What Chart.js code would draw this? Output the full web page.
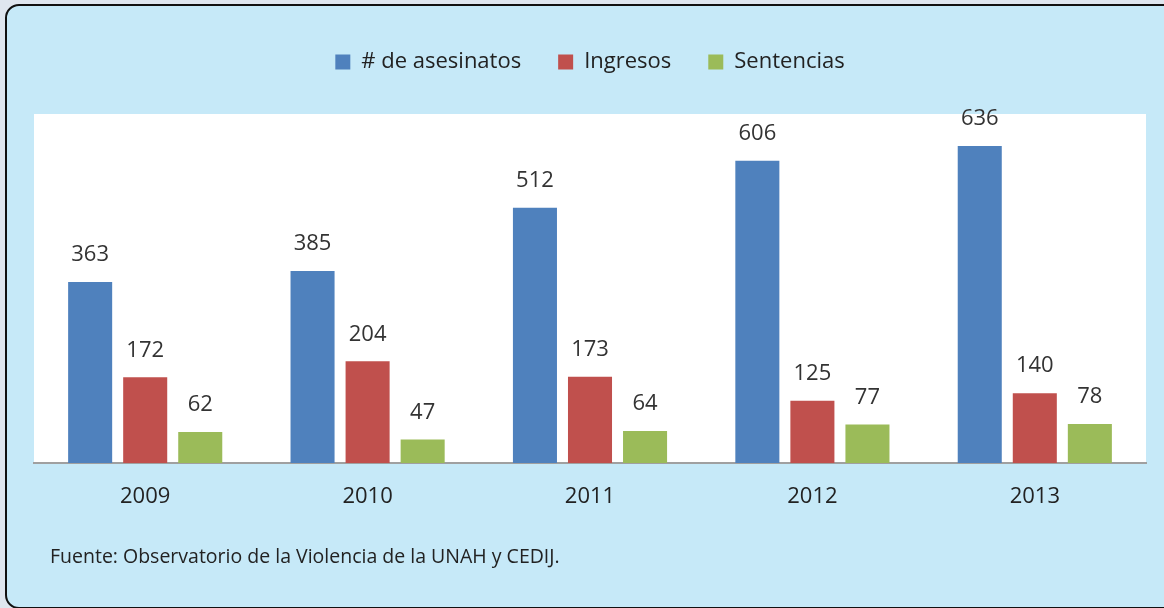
<!DOCTYPE html>
<html>
<head>
<meta charset="utf-8">
<script src="https://cdn.jsdelivr.net/npm/chart.js@4.4.1/dist/chart.umd.min.js"></script>
<style>
  html, body { margin:0; padding:0; width:1164px; height:608px; overflow:hidden; background:#dfe6ef; }
  #frame { position:absolute; left:5px; top:4px; width:1180px; height:601px; background:#c6e9f8;
           border:2px solid #111; border-radius:14px; }
  #wrap { position:absolute; left:0; top:0; width:1164px; height:608px; }
  #src { position:absolute; left:50px; top:542px; font-family:"Open Sans", sans-serif; font-size:19.5px; color:#222; white-space:nowrap; }
</style>
</head>
<body>
<div id="frame"></div>
<div id="wrap"><canvas id="c" width="1164" height="608"></canvas></div>
<div id="src">Fuente: Observatorio de la Violencia de la UNAH y CEDIJ.</div>
<script>
const years = ["2009", "2010", "2011", "2012", "2013"];
const seriesNames = ["# de asesinatos", "Ingresos", "Sentencias"];
const asesinatos = [363, 385, 512, 606, 636];
const ingresos = [172, 204, 173, 125, 140];
const sentencias = [62, 47, 64, 77, 78];
const colors = ["#4f81bd", "#c0504d", "#9bbb59"];

const plotBg = {
  id: "plotBg",
  beforeDraw(chart) {
    const {ctx, chartArea:a} = chart;
    ctx.save();
    ctx.fillStyle = "#ffffff";
    ctx.fillRect(a.left, a.top, a.right - a.left, a.bottom - a.top);
    ctx.restore();
  }
};
const valueLabels = {
  id: "valueLabels",
  afterDatasetsDraw(chart) {
    const ctx = chart.ctx;
    ctx.save();
    ctx.font = '22px "Open Sans", sans-serif';
    ctx.fillStyle = "#333333";
    ctx.textAlign = "center";
    ctx.textBaseline = "middle";
    chart.data.datasets.forEach((ds, i) => {
      chart.getDatasetMeta(i).data.forEach((bar, j) => {
        ctx.fillText(String(ds.data[j]), bar.x, bar.y - 27);
      });
    });
    ctx.restore();
  }
};
const legendPatch = {
  id: "legendPatch",
  beforeLayout(chart) {
    const lg = chart.legend;
    if (lg && !lg._patched) {
      const f = lg.fit;
      lg.fit = function () { f.call(this); this.height += 31; };
      lg._patched = true;
    }
  }
};

new Chart(document.getElementById("c"), {
  type: "bar",
  data: {
    labels: years,
    datasets: [
      { label: seriesNames[0], data: asesinatos, backgroundColor: colors[0] },
      { label: seriesNames[1], data: ingresos, backgroundColor: colors[1] },
      { label: seriesNames[2], data: sentencias, backgroundColor: colors[2] }
    ]
  },
  options: {
    responsive: false,
    animation: false,
    devicePixelRatio: 1,
    layout: { padding: { left: 34, right: 18, top: 14, bottom: 0 } },
    datasets: { bar: { categoryPercentage: 0.7426, barPercentage: 0.8 } },
    plugins: {
      legend: {
        position: "top",
        labels: {
          font: { family: "Open Sans", size: 22 },
          color: "#222222",
          boxWidth: 15, boxHeight: 15,
          padding: 37
        }
      },
      tooltip: { enabled: false }
    },
    scales: {
      x: {
        grid: { display: false },
        border: { display: true, color: "#a0a0a0", width: 2 },
        ticks: { font: { family: "Open Sans", size: 22 }, color: "#222222", padding: 13 },
        afterFit(scale) { scale.height = 145; }
      },
      y: { display: false, min: 0, max: 700 }
    }
  },
  plugins: [plotBg, valueLabels, legendPatch]
});
</script>
</body>
</html>
